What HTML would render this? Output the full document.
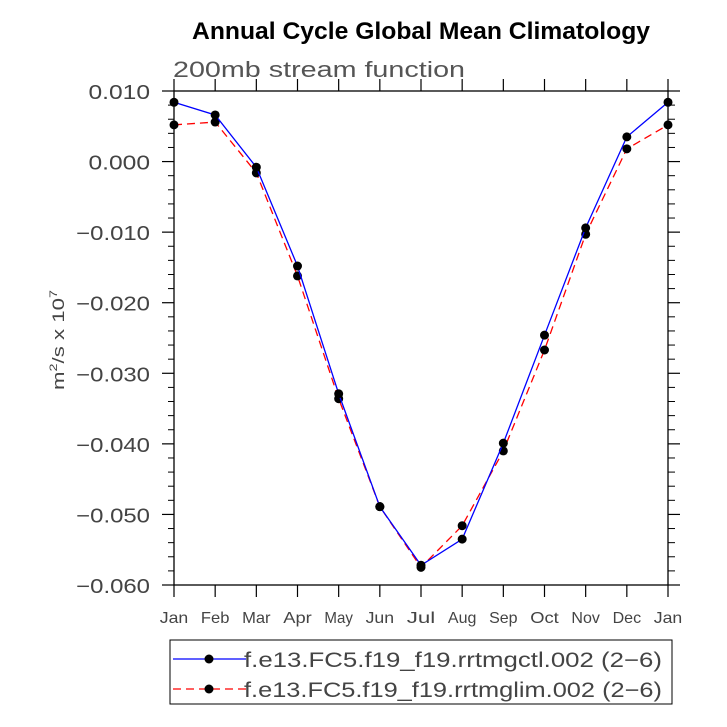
<!DOCTYPE html>
<html><head><meta charset="utf-8"><style>
body{margin:0;background:#fff;}
svg{display:block;font-family:"Liberation Sans",sans-serif;}
</style></head><body>
<svg id="chart" width="727" height="727" viewBox="0 0 727 727" xmlns="http://www.w3.org/2000/svg">
<text x="192" y="39" font-size="24" font-weight="bold" textLength="458" lengthAdjust="spacingAndGlyphs">Annual Cycle Global Mean Climatology</text>
<text x="173" y="77" font-size="22" fill="#555" textLength="292" lengthAdjust="spacingAndGlyphs">200mb stream function</text>
<text transform="translate(64,340) rotate(-90)" text-anchor="middle" font-size="17" fill="#444" textLength="100" lengthAdjust="spacingAndGlyphs">m<tspan dy="-7" font-size="11">2</tspan><tspan dy="7">/s x 10</tspan><tspan dy="-7" font-size="11">7</tspan></text>
<g id="axes"></g>
<g id="series"></g>
<g>
<rect x="170" y="640" width="502" height="64" fill="#fff" stroke="#000" stroke-width="1"/>
<line x1="173" y1="659" x2="246" y2="659" stroke="#00f" stroke-width="1.3"/>
<circle cx="209" cy="659" r="4.5" fill="#000"/>
<text x="244" y="667" font-size="21" fill="#444" textLength="418" lengthAdjust="spacingAndGlyphs">f.e13.FC5.f19_f19.rrtmgctl.002 (2−6)</text>
<line x1="173" y1="689" x2="246" y2="689" stroke="#f00" stroke-width="1.3" stroke-dasharray="8,5"/>
<circle cx="209" cy="689" r="4.5" fill="#000"/>
<text x="244" y="697" font-size="21" fill="#444" textLength="418" lengthAdjust="spacingAndGlyphs">f.e13.FC5.f19_f19.rrtmglim.002 (2−6)</text>
</g>
</svg>
<script>
const months=["Jan","Feb","Mar","Apr","May","Jun","Jul","Aug","Sep","Oct","Nov","Dec","Jan"];
const ctlValues=[0.0084,0.0066,-0.0008,-0.0148,-0.0329,-0.0489,-0.0572,-0.0535,-0.0399,-0.0246,-0.0094,0.0035,0.0084];
const limValues=[0.0052,0.0056,-0.0016,-0.0162,-0.0336,-0.0489,-0.0575,-0.0516,-0.0410,-0.0267,-0.0103,0.0018,0.0052];
const yTickLabels=["0.010","0.000","−0.010","−0.020","−0.030","−0.040","−0.050","−0.060"];
const yTickValues=[0.01,0,-0.01,-0.02,-0.03,-0.04,-0.05,-0.06];
const X0=174,X1=668,Y0=91,Y1=585,YMAX=0.01,YMIN=-0.06;
const xs=i=>X0+(X1-X0)*i/(months.length-1);
const ys=v=>Y0+(YMAX-v)/(YMAX-YMIN)*(Y1-Y0);
const NS="http://www.w3.org/2000/svg";
function mk(tag,attrs,parent){const e=document.createElementNS(NS,tag);for(const k in attrs)e.setAttribute(k,attrs[k]);parent.appendChild(e);return e;}
const axes=document.getElementById('axes'),series=document.getElementById('series');
const frame=mk('rect',{x:X0,y:Y0,width:X1-X0,height:Y1-Y0,fill:'none',stroke:'#000','stroke-width':1.3},axes);


months.forEach((m,i)=>{
  const x=xs(i);
  mk('line',{x1:x,y1:Y1,x2:x,y2:Y1+12,stroke:'#000','stroke-width':1.2},axes);
  mk('line',{x1:x,y1:Y0,x2:x,y2:Y0-12,stroke:'#000','stroke-width':1.2},axes);
  const t=mk('text',{x:x,y:Y1+38,'text-anchor':'middle','font-size':16,fill:'#444',textLength:m.length*9.5,lengthAdjust:'spacingAndGlyphs'},axes);
  t.textContent=m;
  
  
});
yTickValues.forEach((v,i)=>{
  const y=ys(v);
  mk('line',{x1:X0-12,y1:y,x2:X0,y2:y,stroke:'#000','stroke-width':1.2},axes);
  mk('line',{x1:X1,y1:y,x2:X1+12,y2:y,stroke:'#000','stroke-width':1.2},axes);
  const lab=yTickLabels[i];
  const t=mk('text',{x:X0-24,y:y+8,'text-anchor':'end','font-size':20,fill:'#444',textLength:lab.length*12.3,lengthAdjust:'spacingAndGlyphs'},axes);
  t.textContent=lab;
  
  
  if(i<yTickValues.length-1){for(let k=1;k<5;k++){const yy=ys(v-0.002*k);
    mk('line',{x1:X0-6,y1:yy,x2:X0,y2:yy,stroke:'#000','stroke-width':1},axes);
    mk('line',{x1:X1,y1:yy,x2:X1+7,y2:yy,stroke:'#000','stroke-width':1},axes);}}
});
function drawSeries(vals,color,dash,name){
  const p=mk('polyline',{points:vals.map((v,i)=>xs(i)+','+ys(v)).join(' '),fill:'none',stroke:color,'stroke-width':1.3,'stroke-dasharray':dash},series);
  
  
  vals.forEach((v,i)=>{const c=mk('circle',{cx:xs(i),cy:ys(v),r:4.5,fill:'#000'},series);
    
    });
}
drawSeries(limValues,'#f00','8,5','lim-series');
drawSeries(ctlValues,'#00f','none','ctl-series');
</script>
</body></html>
